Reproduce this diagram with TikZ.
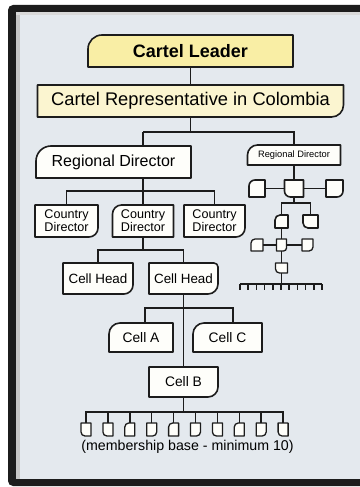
\documentclass[tikz,border=0pt]{standalone}
\usepackage{fontspec}
\setmainfont{Liberation Sans}
\usetikzlibrary{calc}
\pgfdeclarelayer{back}
\pgfsetlayers{back,main}
\definecolor{bgc}{RGB}{228,233,238}
\definecolor{ylw}{RGB}{249,238,165}
\definecolor{pale}{RGB}{251,245,208}
\definecolor{boxw}{RGB}{254,254,250}
\definecolor{ink}{RGB}{28,28,28}
\tikzset{
  lbl/.style={inner sep=0pt,outer sep=0pt,align=center,text=black},
  outl/.style={draw=ink,line width=1.6pt,line join=round},
  thin outl/.style={draw=ink,line width=1.3pt,line join=round},
  conn/.style={draw=ink,line width=1.5pt},
}
% outlines with a single rounded corner: #1 node, #2 radius, #3 fill, #4 style
\newcommand\cornTL[4]{\draw[#4,fill=#3] ([yshift=-#2]#1.north west) .. controls ([yshift=-0.45*#2]#1.north west) and ([xshift=0.45*#2]#1.north west) .. ([xshift=#2]#1.north west) -- (#1.north east) -- (#1.south east) -- (#1.south west) -- cycle;}
\newcommand\cornBR[4]{\draw[#4,fill=#3] (#1.north west) -- (#1.north east) -- ([yshift=#2]#1.south east) .. controls ([yshift=0.45*#2]#1.south east) and ([xshift=-0.45*#2]#1.south east) .. ([xshift=-#2]#1.south east) -- (#1.south west) -- cycle;}
\newcommand\cornBL[4]{\draw[#4,fill=#3] (#1.north west) -- (#1.north east) -- (#1.south east) -- ([xshift=#2]#1.south west) .. controls ([xshift=0.45*#2]#1.south west) and ([yshift=0.45*#2]#1.south west) .. ([yshift=#2]#1.south west) -- cycle;}
\newcommand\cornTRBR[5]{\draw[#5,fill=#4] (#1.north west) -- ([xshift=-#2]#1.north east) .. controls ([xshift=-0.45*#2]#1.north east) and ([yshift=-0.45*#2]#1.north east) .. ([yshift=-#2]#1.north east) -- ([yshift=#3]#1.south east) .. controls ([yshift=0.45*#3]#1.south east) and ([xshift=-0.45*#3]#1.south east) .. ([xshift=-#3]#1.south east) -- (#1.south west) -- cycle;}
\begin{document}
\begin{tikzpicture}[x=1pt,y=-1pt]
\useasboundingbox (0,0) rectangle (359,487);
\begin{pgfonlayer}{back}
\fill[white] (0,0) rectangle (359,487);
\fill[ink,rounded corners=5pt] (8,5) rectangle (372,486);
\fill[bgc] (16,12) rectangle (372,479);
\fill[gray!45] (16,12) rectangle (20,479);
\fill[gray!30] (16,12) rectangle (372,15);
\end{pgfonlayer}

% main nodes
\node[lbl,minimum width=205pt,minimum height=32pt,font=\fontsize{18}{20}\selectfont\bfseries] (cl) at (190.5,51) {Cartel Leader};
\node[lbl,minimum width=306pt,minimum height=32pt,font=\fontsize{18.3}{20}\selectfont] (rep) at (190.5,101) {Cartel Representative in Colombia};
\node[lbl,minimum width=155pt,minimum height=32pt,font=\fontsize{16}{18}\selectfont] (rdl) at (113.5,162) {Regional Director};
\node[lbl,minimum width=93pt,minimum height=20pt,font=\fontsize{9.3}{11}\selectfont] (rdr) at (294,155) {Regional Director};
\node[lbl,minimum width=63pt,minimum height=32pt,font=\fontsize{12.6}{13}\selectfont] (cd1) at (66.5,221) {Country\\Director};
\node[lbl,minimum width=61pt,minimum height=32pt,font=\fontsize{12.6}{13}\selectfont] (cd2) at (143,221) {Country\\Director};
\node[lbl,minimum width=61pt,minimum height=32pt,font=\fontsize{12.6}{13}\selectfont] (cd3) at (214.5,221) {Country\\Director};
\node[lbl,minimum width=70pt,minimum height=31pt,font=\fontsize{13.4}{15}\selectfont] (ch1) at (98,278.5) {Cell Head};
\node[lbl,minimum width=69pt,minimum height=31pt,font=\fontsize{13.4}{15}\selectfont] (ch2) at (183.5,278.5) {Cell Head};
\node[lbl,minimum width=64pt,minimum height=29pt,font=\fontsize{13.8}{15}\selectfont] (ca) at (141,337.5) {Cell A};
\node[lbl,minimum width=69pt,minimum height=29pt,font=\fontsize{13.8}{15}\selectfont] (cc) at (227.5,337.5) {Cell C};
\node[lbl,minimum width=69pt,minimum height=30pt,font=\fontsize{13.8}{15}\selectfont] (cb) at (183.5,382) {Cell B};
\foreach \i in {1,...,10}{
  \node[lbl,minimum width=10pt,minimum height=13pt] (m\i) at ({86+21.9*(\i-1)},429.5) {};
}
\node[lbl,font=\fontsize{14.2}{16}\selectfont] (memb) at (187.5,447) {(membership base - minimum 10)};

% mini tree
\node[lbl,minimum width=16pt,minimum height=17pt] (r1l) at (257,188.5) {};
\node[lbl,minimum width=19pt,minimum height=17pt] (r1c) at (294,188.5) {};
\node[lbl,minimum width=17pt,minimum height=17pt] (r1r) at (334.5,188.5) {};
\node[lbl,minimum width=13pt,minimum height=13pt] (r2l) at (281.5,221.5) {};
\node[lbl,minimum width=15pt,minimum height=13pt] (r2r) at (310.5,221.5) {};
\node[lbl,minimum width=12pt,minimum height=12pt] (r3l) at (257,245) {};
\node[lbl,minimum width=10pt,minimum height=12pt] (r3c) at (281.5,245) {};
\node[lbl,minimum width=11pt,minimum height=12pt] (r3r) at (307.5,245) {};
\node[lbl,minimum width=12pt,minimum height=10pt] (r4) at (281.5,268) {};

% outlines
\begin{pgfonlayer}{back}
\cornTL{cl}{14pt}{ylw}{outl}
\cornBR{rep}{12pt}{pale}{outl}
\cornTL{rdl}{15pt}{boxw}{outl}
\cornTL{rdr}{10pt}{boxw}{outl}
\cornBR{cd1}{9pt}{boxw}{outl}
\cornTL{cd2}{9pt}{boxw}{outl}
\cornBR{cd3}{9pt}{boxw}{outl}
\cornBR{ch1}{9pt}{boxw}{outl}
\cornTRBR{ch2}{4pt}{10pt}{boxw}{outl}
\cornTL{ca}{11pt}{boxw}{outl}
\cornTL{cc}{11pt}{boxw}{outl}
\cornBR{cb}{10pt}{boxw}{outl}
\cornBL{m1}{4pt}{boxw}{thin outl}
\cornBL{m2}{4pt}{boxw}{thin outl}
\cornTL{m3}{4pt}{boxw}{thin outl}
\cornBR{m4}{4pt}{boxw}{thin outl}
\cornTL{m5}{4pt}{boxw}{thin outl}
\cornBR{m6}{4pt}{boxw}{thin outl}
\cornBL{m7}{4pt}{boxw}{thin outl}
\cornTL{m8}{4pt}{boxw}{thin outl}
\cornBR{m9}{4pt}{boxw}{thin outl}
\cornBL{m10}{4pt}{boxw}{thin outl}
\cornTL{r1l}{6pt}{boxw}{outl}
\cornBL{r1c}{6pt}{boxw}{outl}
\cornBR{r1r}{6pt}{boxw}{outl}
\cornTL{r2l}{5pt}{boxw}{outl}
\cornBL{r2r}{5pt}{boxw}{outl}
\cornTL{r3l}{4pt}{boxw}{thin outl}
\cornBR{r3c}{3pt}{boxw}{thin outl}
\cornBR{r3r}{4pt}{boxw}{thin outl}
\cornBL{r4}{4pt}{boxw}{thin outl}
\end{pgfonlayer}

% connectors
\coordinate (j1) at (143,132);
\coordinate (j2) at (143,191);
\coordinate (j3) at (143,250);
\coordinate (jA) at (145,308);
\coordinate (jC) at (233,308);
\coordinate (j5) at (183.5,412);
\draw[conn] (cl.south) -- (cl.south |- rep.north);
\draw[conn] (rep.south) -- (rep.south |- j1);
\draw[conn] (j1) -| (rdr.north);
\draw[conn] (j1) -- (j1 |- rdl.north);
\draw[conn] (j2 |- rdl.south) -- (cd2.north);
\draw[conn] (cd1.north) |- (j2) -| (cd3.north);
\draw[conn] (cd2.south) -- (j3);
\draw[conn] (ch1.north) |- (j3) -| (ch2.north);
\draw[conn] (ch2.south) -- (cb.north);
\draw[conn] (jA |- ca.north) -- (jA) -- (jC) -- (jC |- cc.north);
\draw[conn] (cb.south) -- (j5);
\draw[conn] (m1.north) |- (j5) -| (m10.north);
\foreach \i in {2,...,9}{\draw[conn] (m\i.north) -- (m\i.north |- j5);}

\coordinate (k1) at (294,203);
\coordinate (k2) at (281.5,284);
\coordinate (cbL) at (240,284);
\coordinate (cbR) at (322,284);
\draw[conn] (rdr.south) -- (r1c.north);
\draw[conn] (r1l.east) -- (r1c.west);
\draw[conn] (r1c.east) -- (r1r.west);
\draw[conn] (r1c.south) -- (k1);
\draw[conn] (r2l.north) |- (k1) -| (r2r.north);
\draw[conn] (r2l.south) -- (r3c.north);
\draw[conn] (r3l.east) -- (r3c.west);
\draw[conn] (r3c.east) -- (r3r.west);
\draw[conn] (r3c.south) -- (r4.north);
\draw[conn] (r4.south) -- (k2);
\draw[conn] (cbL) -- (cbR);
\foreach \i in {0,...,10}{\draw[conn] ($(cbL)+(8.2*\i,0)$) -- ++(0,6);}
\end{tikzpicture}
\end{document}
